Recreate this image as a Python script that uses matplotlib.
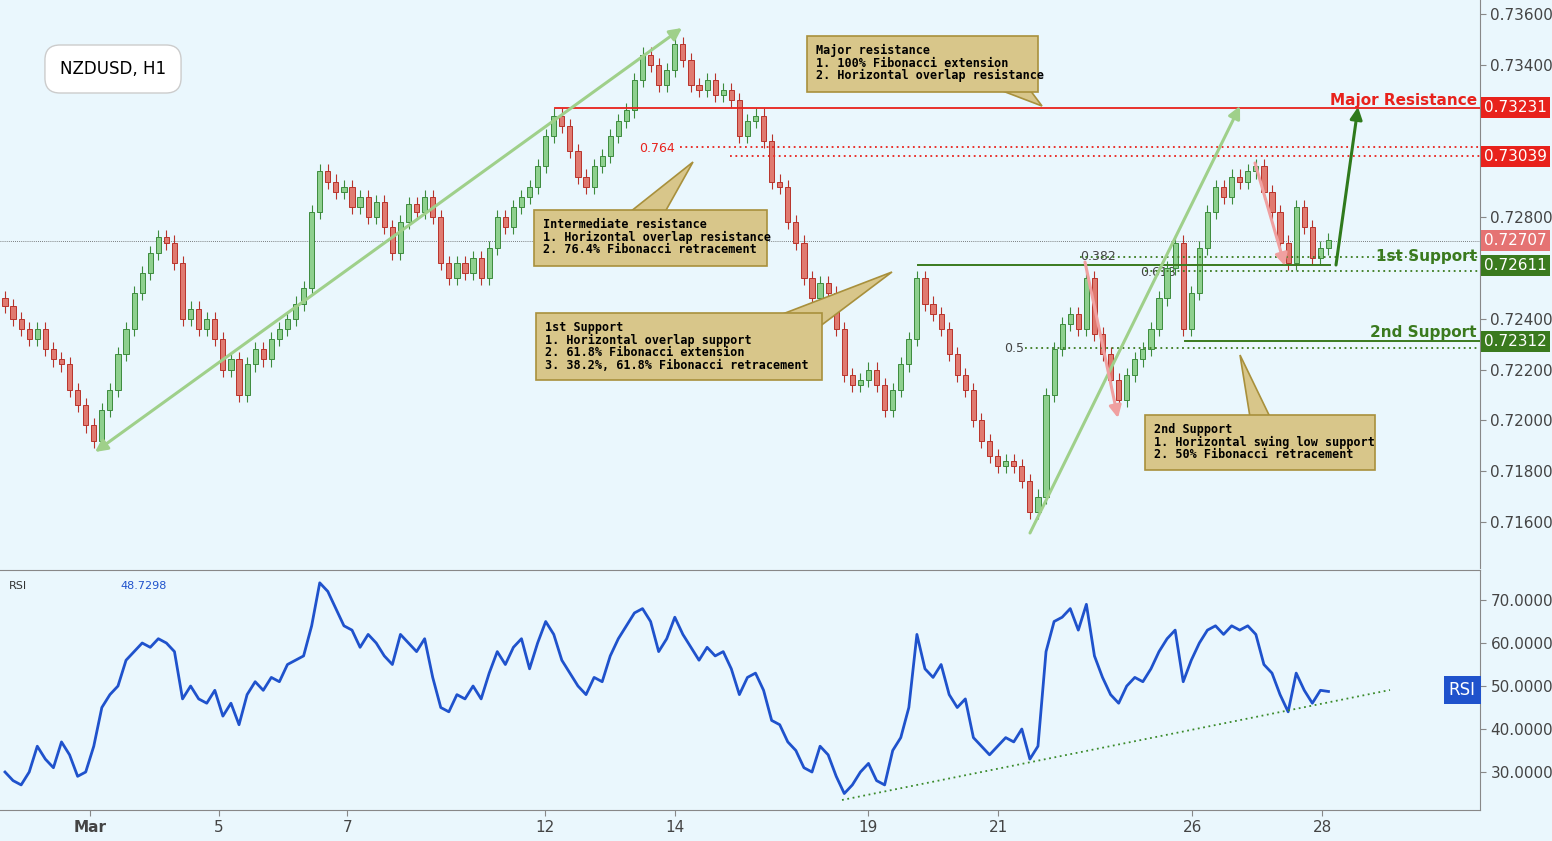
import matplotlib.pyplot as plt
from matplotlib.patches import Rectangle, Polygon
from matplotlib.transforms import blended_transform_factory

# NZDUSD, 3-hour steps
CLOSES = [
    0.7245, 0.7240, 0.7236, 0.7232, 0.7236, 0.7228, 0.7224, 0.7222, 0.7212, 0.7206,
    0.7198, 0.7192, 0.7204, 0.7212, 0.7226, 0.7236, 0.7250, 0.7258, 0.7266, 0.7272,
    0.7270, 0.7262, 0.7240, 0.7244, 0.7236, 0.7240, 0.7232, 0.7220, 0.7224, 0.7210,
    0.7222, 0.7228, 0.7224, 0.7232, 0.7236, 0.7240, 0.7246, 0.7252, 0.7282, 0.7298,
    0.7294, 0.7290, 0.7292, 0.7284, 0.7288, 0.7280, 0.7286, 0.7276, 0.7266, 0.7278,
    0.7285, 0.7282, 0.7288, 0.7280, 0.7262, 0.7256, 0.7262, 0.7258, 0.7264, 0.7256,
    0.7268, 0.7280, 0.7276, 0.7284, 0.7288, 0.7292, 0.7300, 0.7312, 0.7320, 0.7316,
    0.7306, 0.7296, 0.7292, 0.7300, 0.7304, 0.7312, 0.7318, 0.7322, 0.7334, 0.7344,
    0.7340, 0.7332, 0.7338, 0.7348, 0.7342, 0.7332, 0.7330, 0.7334, 0.7328, 0.7330,
    0.7326, 0.7312, 0.7318, 0.7320, 0.7310, 0.7294, 0.7292, 0.7278, 0.7270, 0.7256,
    0.7248, 0.7254, 0.7250, 0.7236, 0.7218, 0.7214, 0.7216, 0.7220, 0.7214, 0.7204,
    0.7212, 0.7222, 0.7232, 0.7256, 0.7246, 0.7242, 0.7236, 0.7226, 0.7218, 0.7212,
    0.7200, 0.7192, 0.7186, 0.7182, 0.7184, 0.7182, 0.7176, 0.7164, 0.7170, 0.7210,
    0.7228, 0.7238, 0.7242, 0.7236, 0.7256, 0.7234, 0.7226, 0.7216, 0.7208, 0.7218,
    0.7224, 0.7228, 0.7236, 0.7248, 0.7260, 0.7270, 0.7236, 0.7250, 0.7268, 0.7282,
    0.7292, 0.7288, 0.7296, 0.7294, 0.7298, 0.7300, 0.7290, 0.7282, 0.7270, 0.7262,
    0.7284, 0.7276, 0.7264, 0.7268, 0.7271,
]
OPEN_FIRST = 0.7248

RSI = [
    30, 28, 27, 30, 36, 33, 31, 37, 34, 29,
    30, 36, 45, 48, 50, 56, 58, 60, 59, 61,
    60, 58, 47, 50, 47, 46, 49, 43, 46, 41,
    48, 51, 49, 52, 51, 55, 56, 57, 64, 74,
    72, 68, 64, 63, 59, 62, 60, 57, 55, 62,
    60, 58, 61, 52, 45, 44, 48, 47, 50, 47,
    53, 58, 55, 59, 61, 54, 60, 65, 62, 56,
    53, 50, 48, 52, 51, 57, 61, 64, 67, 68,
    65, 58, 61, 66, 62, 59, 56, 59, 57, 58,
    54, 48, 52, 53, 49, 42, 41, 37, 35, 31,
    30, 36, 34, 29, 25, 27, 30, 32, 28, 27,
    35, 38, 45, 62, 54, 52, 55, 48, 45, 47,
    38, 36, 34, 36, 38, 37, 40, 33, 36, 58,
    65, 66, 68, 63, 69, 57, 52, 48, 46, 50,
    52, 51, 54, 58, 61, 63, 51, 56, 60, 63,
    64, 62, 64, 63, 64, 62, 55, 53, 48, 44,
    53, 49, 46, 49, 48.73,
]

TICK_BARS = [10.5, 26.5, 42.4, 66.9, 83.0, 106.9, 123.1, 147.1, 163.2]
TICK_LABELS = ["Mar", "5", "7", "12", "14", "19", "21", "26", "28"]
PRICE_TICKS = [0.7160, 0.7180, 0.7200, 0.7220, 0.7240, 0.7260, 0.7280, 0.7300, 0.7320, 0.7340, 0.7360]
RSI_TICKS = [30, 40, 50, 60, 70]

MAJOR_RES = 0.73231
INTER_RES = 0.73039
FIRST_SUP = 0.72611
SECOND_SUP = 0.72312
LAST_PRICE = 0.72707

BG = "#eaf7fd"
BOX = "#d8c68a"
BOX_EDGE = "#a8903c"
WICK = 0.00028


# pixel -> data helpers for annotations
def bx(px):
    return (px - 5) / 8.07


def pr(py):
    return 0.73655 - py / 25400


def rs(py):
    return 76.98 - (py - 570) / 4.3


fig = plt.figure(figsize=(15.52, 8.41), dpi=100, facecolor=BG)
ax = fig.add_axes([0, 1 - 568 / 841, 1480 / 1552, 568 / 841], facecolor=BG)
ax2 = fig.add_axes([0, 1 - 810 / 841, 1480 / 1552, 240 / 841], facecolor=BG)
XL = (bx(0), bx(1480))

# candles
opens = [OPEN_FIRST] + CLOSES[:-1]
for i, (o, c) in enumerate(zip(opens, CLOSES)):
    up = c >= o
    col = "#3d8b3d" if up else "#b8332b"
    ax.vlines(i, min(o, c) - WICK, max(o, c) + WICK, color=col, lw=0.8, zorder=3)
    ax.add_patch(Rectangle((i - 0.32, min(o, c)), 0.64, max(abs(c - o), 0.00003),
                           facecolor="#8ed08e" if up else "#e07a70", edgecolor=col, lw=0.7, zorder=4))

ax.set_xlim(*XL)
ax.set_ylim(pr(568), pr(0))
ax.yaxis.tick_right()
ax.set_yticks(PRICE_TICKS)
ax.set_yticklabels([f"{v:.5f}" for v in PRICE_TICKS], fontsize=11, color="#444")
ax.set_xticks([])
ax.tick_params(axis="y", length=4, color="#888")
for s in ["top", "left", "bottom"]:
    ax.spines[s].set_visible(False)
ax.spines["right"].set_color("#888")

# levels
ax.axhline(LAST_PRICE, color="#555", lw=0.6, ls=(0, (1, 1.5)), zorder=2)
ax.plot([bx(555), XL[1]], [MAJOR_RES] * 2, color="#e8221c", lw=1.3, zorder=5)
ax.plot([bx(680), XL[1]], [pr(147)] * 2, color="#e8221c", lw=1.3, ls=(0, (1, 2)), zorder=5)
ax.plot([bx(730), XL[1]], [INTER_RES] * 2, color="#e8221c", lw=1.3, ls=(0, (1, 2)), zorder=5)
ax.text(bx(675), pr(148), "0.764", color="#e8221c", fontsize=9, ha="right", va="center")
ax.plot([bx(918), bx(1330)], [pr(265)] * 2, color="#3a7a1e", lw=1.4, zorder=5)
ax.plot([bx(1080), XL[1]], [pr(257)] * 2, color="#3a7a1e", lw=1.3, ls=(0, (1, 2)), zorder=5)
ax.plot([bx(1145), XL[1]], [pr(271)] * 2, color="#3a7a1e", lw=1.3, ls=(0, (1, 2)), zorder=5)
ax.text(bx(1098), pr(257), "0.382", color="#444", fontsize=9, ha="center", va="center")
ax.text(bx(1158), pr(272), "0.618", color="#444", fontsize=9, ha="center", va="center")
ax.plot([bx(1185), XL[1]], [SECOND_SUP] * 2, color="#3a7a1e", lw=1.4, zorder=5)
ax.plot([bx(1025), XL[1]], [pr(348)] * 2, color="#3a7a1e", lw=1.3, ls=(0, (1, 2)), zorder=5)
ax.text(bx(1014), pr(349), "0.5", color="#444", fontsize=9, ha="center", va="center")
ax.text(bx(1477), pr(100), "Major Resistance", color="#e8221c", fontsize=11, fontweight="bold", ha="right", va="center")
ax.text(bx(1477), pr(257), "1st Support", color="#3a7a1e", fontsize=11, fontweight="bold", ha="right", va="center")
ax.text(bx(1477), pr(333), "2nd Support", color="#3a7a1e", fontsize=11, fontweight="bold", ha="right", va="center")


# arrows
def arrow(p0, p1, color, lw=2.2, both=False):
    style = "<|-|>" if both else "-|>"
    ax.annotate("", xy=(bx(p1[0]), pr(p1[1])), xytext=(bx(p0[0]), pr(p0[1])),
                arrowprops=dict(arrowstyle=style, color=color, lw=lw, mutation_scale=18, shrinkA=0, shrinkB=0), zorder=6)


arrow((95, 452), (682, 28), "#9fd08a", both=True)
arrow((1030, 533), (1240, 106), "#9fd08a")
arrow((1085, 262), (1118, 418), "#f0a0a0")
arrow((1255, 163), (1285, 266), "#f0a0a0")
arrow((1336, 265), (1358, 107), "#2f7a1c")


# callouts
def callout(x0, y0, x1, y1, tip, base, lines):
    ax.add_patch(Polygon([(bx(base[0]), pr(base[1])), (bx(base[2]), pr(base[3])), (bx(tip[0]), pr(tip[1]))],
                         closed=True, facecolor=BOX, edgecolor=BOX_EDGE, lw=1.2, zorder=7))
    ax.add_patch(Rectangle((bx(x0), pr(y1)), bx(x1) - bx(x0), pr(y0) - pr(y1),
                           facecolor=BOX, edgecolor=BOX_EDGE, lw=1.2, zorder=8))
    ax.text(bx(x0 + 9), pr(y0 + 8), "\n".join(lines), fontsize=8.5, fontweight="bold",
            family="DejaVu Sans Mono", va="top", ha="left", linespacing=0.95, zorder=9)


callout(807, 36, 1038, 92, (1042, 106), (1000, 90, 1030, 90),
        ["Major resistance", "1. 100% Fibonacci extension", "2. Horizontal overlap resistance"])
callout(534, 210, 767, 266, (693, 162), (630, 212, 665, 212),
        ["Intermediate resistance", "1. Horizontal overlap resistance", "2. 76.4% Fibonacci retracement"])
callout(536, 313, 822, 380, (892, 272), (780, 315, 815, 330),
        ["1st Support", "1. Horizontal overlap support", "2. 61.8% Fibonacci extension",
         "3. 38.2%, 61.8% Fibonacci retracement"])
callout(1145, 415, 1375, 470, (1240, 355), (1250, 417, 1270, 417),
        ["2nd Support", "1. Horizontal swing low support", "2. 50% Fibonacci retracement"])

ax.text(bx(113), pr(69), "NZDUSD, H1", fontsize=12, ha="center", va="center", zorder=9,
        bbox=dict(boxstyle="round,pad=0.9", facecolor="white", edgecolor="#ccc"))

# RSI panel
ax2.plot(range(len(RSI)), RSI, color="#1f52cc", lw=2)
ax2.plot([bx(842), bx(1390)], [rs(800), rs(690)], color="#3a8a2a", lw=1.3, ls=(0, (1, 2)))
ax2.set_xlim(*XL)
ax2.set_ylim(rs(810), rs(570))
ax2.yaxis.tick_right()
ax2.set_yticks(RSI_TICKS)
ax2.set_yticklabels([f"{v:.4f}" for v in RSI_TICKS], fontsize=11, color="#444")
ax2.set_xticks(TICK_BARS)
ax2.set_xticklabels(TICK_LABELS, fontsize=11, color="#444")
ax2.get_xticklabels()[0].set_fontweight("bold")
ax2.tick_params(length=4, color="#888")
ax2.spines["left"].set_visible(False)
for s in ["top", "right", "bottom"]:
    ax2.spines[s].set_color("#888")
ax2.text(bx(9), rs(586), "RSI", fontsize=8, color="#333", va="center")
ax2.text(bx(120), rs(586), "48.7298", fontsize=8, color="#1f52cc", va="center")


# right-side value tags, drawn over the tick labels
def tag(y, text, color):
    tr = blended_transform_factory(fig.transFigure, ax.transData)
    fig.text(1484 / 1552, y, text, transform=tr, color="white", fontsize=11, va="center", ha="left",
             bbox=dict(boxstyle="square,pad=0.2", facecolor=color, edgecolor="none"), zorder=10)


for v in (MAJOR_RES, INTER_RES, LAST_PRICE, FIRST_SUP):
    for lab in ax.get_yticklabels():
        if abs(lab.get_position()[1] - v) < 0.00045:
            lab.set_visible(False)

tag(MAJOR_RES, "0.73231", "#e8221c")
tag(INTER_RES, "0.73039", "#e8221c")
tag(LAST_PRICE, "0.72707", "#e57373")
tag(FIRST_SUP, "0.72611", "#3a7a1e")
tag(SECOND_SUP, "0.72312", "#3a7a1e")
ax2.text(bx(1462), 49, "RSI", color="white", fontsize=12, ha="center", va="center",
         bbox=dict(boxstyle="square,pad=0.3", facecolor="#1f52cc", edgecolor="none"))

fig.savefig("out.png", dpi=100, facecolor=BG)
